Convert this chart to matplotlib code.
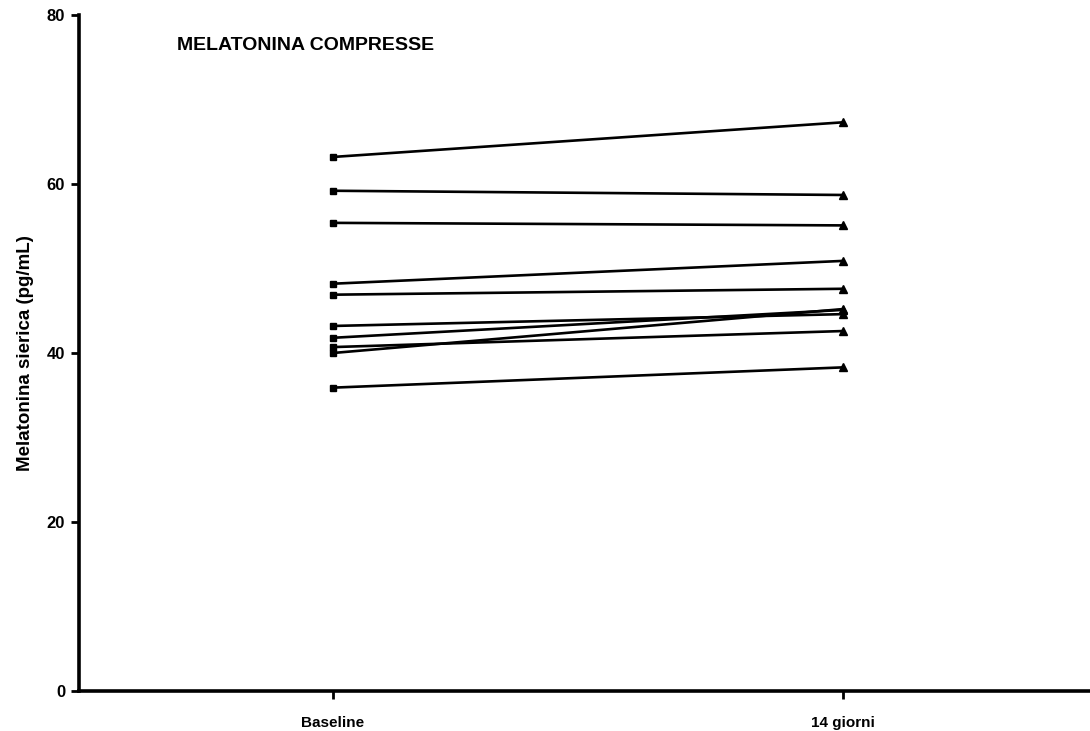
import matplotlib
matplotlib.use("Agg")
import matplotlib.pyplot as plt

# paired serum melatonin values, baseline -> 14 days
groups = ["Baseline", "14 giorni"]
baseline = [63.2, 59.2, 55.4, 48.2, 46.9, 43.2, 41.8, 40.7, 40.0, 35.9]
giorni14 = [67.3, 58.7, 55.1, 50.9, 47.6, 44.6, 45.1, 42.6, 45.2, 38.3]
yticks = [0, 20, 40, 60, 80]

plt.rcParams["font.family"] = ["Liberation Sans", "DejaVu Sans"]

fig = plt.figure(figsize=(10.9, 7.31), dpi=100)
ax = fig.add_axes([0.0725, 0.0547, 0.9275, 0.9248])

for b, g in zip(baseline, giorni14):
    ax.plot([0, 1], [b, g], color="black", linewidth=1.9, zorder=2)
    ax.plot(0, b, marker="s", color="black", markersize=5, zorder=3)
    ax.plot(1, g, marker="^", color="black", markersize=5.5, zorder=3)

ax.set_xlim(-0.498, 1.484)
ax.set_ylim(0, 80)
ax.set_xticks([0, 1])
ax.set_xticklabels(groups, fontsize=11, fontweight="bold")
ax.set_yticks(yticks)
ax.set_yticklabels([str(t) for t in yticks], fontsize=12, fontweight="bold")
ax.set_ylabel("Melatonina sierica (pg/mL)", fontsize=13.5, fontweight="bold",
              labelpad=9)

for spine in ["top", "right"]:
    ax.spines[spine].set_visible(False)
for spine in ["left", "bottom"]:
    ax.spines[spine].set_linewidth(2.6)
ax.tick_params(axis="both", length=6, width=2, pad=4)
ax.tick_params(axis="x", pad=12)

ax.text(0.097, 0.955, "MELATONINA COMPRESSE", transform=ax.transAxes,
        fontsize=14, fontweight="bold", ha="left", va="center")

fig.savefig("out.png", dpi=100)
